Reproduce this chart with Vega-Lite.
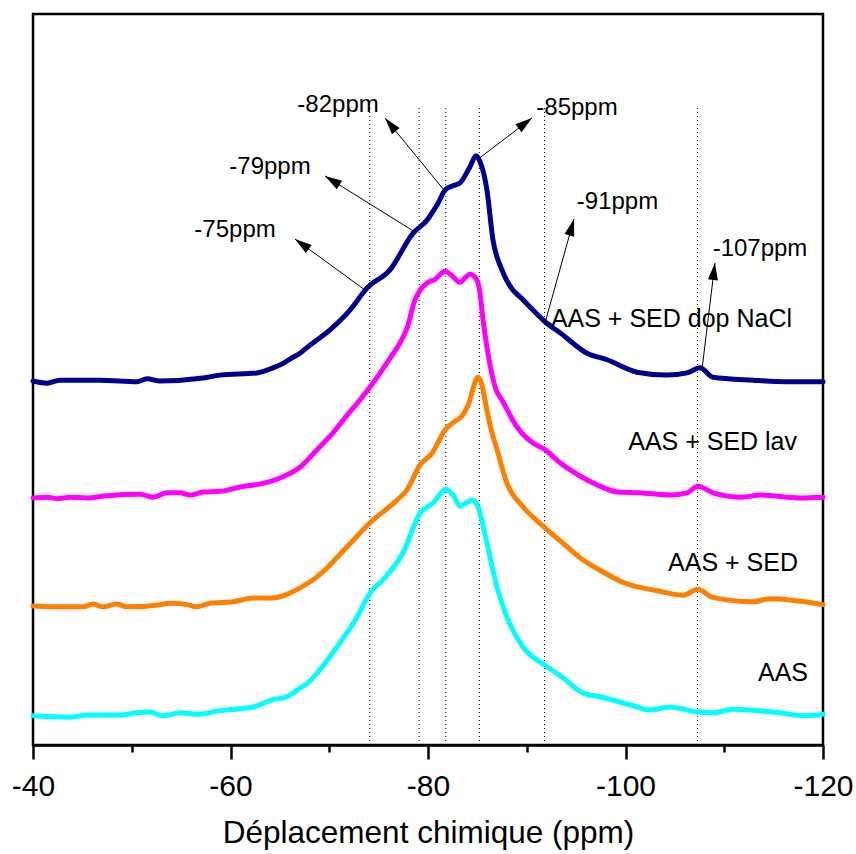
{
  "$schema": "https://vega.github.io/schema/vega-lite/v6.json",
  "width": 790,
  "height": 731,
  "autosize": "none",
  "padding": {"left": 33, "top": 14, "right": 33, "bottom": 109},
  "background": "white",
  "config": {"view": {"stroke": "black", "strokeWidth": 2.5}, "font": "Liberation Sans"},
  "datasets": {
    "curves": [
      {"s":"AAS + SED dop NaCl","x":-40,"y":49.8},{"s":"AAS + SED dop NaCl","x":-41.42,"y":49.5},{"s":"AAS + SED dop NaCl","x":-42.73,"y":49.9},{"s":"AAS + SED dop NaCl","x":-46.78,"y":49.9},{"s":"AAS + SED dop NaCl","x":-50.53,"y":49.7},{"s":"AAS + SED dop NaCl","x":-51.54,"y":50.1},{"s":"AAS + SED dop NaCl","x":-52.86,"y":49.8},{"s":"AAS + SED dop NaCl","x":-57.22,"y":50.2},{"s":"AAS + SED dop NaCl","x":-58.94,"y":50.6},{"s":"AAS + SED dop NaCl","x":-62.68,"y":50.9},{"s":"AAS + SED dop NaCl","x":-64.3,"y":51.6},{"s":"AAS + SED dop NaCl","x":-65.32,"y":52.2},{"s":"AAS + SED dop NaCl","x":-66.03,"y":52.8},{"s":"AAS + SED dop NaCl","x":-67.04,"y":53.6},{"s":"AAS + SED dop NaCl","x":-68.05,"y":54.7},{"s":"AAS + SED dop NaCl","x":-70.08,"y":56.8},{"s":"AAS + SED dop NaCl","x":-72.1,"y":59.5},{"s":"AAS + SED dop NaCl","x":-73.82,"y":62.5},{"s":"AAS + SED dop NaCl","x":-76.15,"y":65.0},{"s":"AAS + SED dop NaCl","x":-78.48,"y":70.0},{"s":"AAS + SED dop NaCl","x":-79.9,"y":71.8},{"s":"AAS + SED dop NaCl","x":-81.01,"y":74.1},{"s":"AAS + SED dop NaCl","x":-81.72,"y":75.9},{"s":"AAS + SED dop NaCl","x":-82.53,"y":76.5},{"s":"AAS + SED dop NaCl","x":-83.24,"y":76.9},{"s":"AAS + SED dop NaCl","x":-84.25,"y":79.1},{"s":"AAS + SED dop NaCl","x":-84.86,"y":80.6},{"s":"AAS + SED dop NaCl","x":-85.27,"y":79.8},{"s":"AAS + SED dop NaCl","x":-85.97,"y":75.9},{"s":"AAS + SED dop NaCl","x":-86.58,"y":69.1},{"s":"AAS + SED dop NaCl","x":-87.49,"y":65.0},{"s":"AAS + SED dop NaCl","x":-88.61,"y":62.2},{"s":"AAS + SED dop NaCl","x":-89.32,"y":61.3},{"s":"AAS + SED dop NaCl","x":-90.63,"y":59.5},{"s":"AAS + SED dop NaCl","x":-91.85,"y":57.9},{"s":"AAS + SED dop NaCl","x":-93.37,"y":56.4},{"s":"AAS + SED dop NaCl","x":-96.1,"y":53.6},{"s":"AAS + SED dop NaCl","x":-98.13,"y":52.7},{"s":"AAS + SED dop NaCl","x":-101.16,"y":51.0},{"s":"AAS + SED dop NaCl","x":-104.2,"y":50.6},{"s":"AAS + SED dop NaCl","x":-106.23,"y":50.9},{"s":"AAS + SED dop NaCl","x":-107.54,"y":51.6},{"s":"AAS + SED dop NaCl","x":-108.86,"y":50.3},{"s":"AAS + SED dop NaCl","x":-112.91,"y":49.9},{"s":"AAS + SED dop NaCl","x":-116.35,"y":49.7},{"s":"AAS + SED dop NaCl","x":-120,"y":49.7},

      {"s":"AAS + SED lav","x":-40,"y":33.8},{"s":"AAS + SED lav","x":-41.42,"y":33.9},{"s":"AAS + SED lav","x":-42.43,"y":33.7},{"s":"AAS + SED lav","x":-43.75,"y":33.9},{"s":"AAS + SED lav","x":-45.47,"y":33.8},{"s":"AAS + SED lav","x":-47.49,"y":34.1},{"s":"AAS + SED lav","x":-50.84,"y":34.3},{"s":"AAS + SED lav","x":-52.15,"y":33.9},{"s":"AAS + SED lav","x":-53.57,"y":34.5},{"s":"AAS + SED lav","x":-54.89,"y":34.5},{"s":"AAS + SED lav","x":-55.9,"y":34.2},{"s":"AAS + SED lav","x":-57.22,"y":34.6},{"s":"AAS + SED lav","x":-58.94,"y":34.7},{"s":"AAS + SED lav","x":-60.96,"y":35.3},{"s":"AAS + SED lav","x":-63.29,"y":35.8},{"s":"AAS + SED lav","x":-65.32,"y":36.7},{"s":"AAS + SED lav","x":-67.04,"y":38.0},{"s":"AAS + SED lav","x":-68.76,"y":40.4},{"s":"AAS + SED lav","x":-70.38,"y":42.7},{"s":"AAS + SED lav","x":-71.8,"y":45.1},{"s":"AAS + SED lav","x":-73.11,"y":47.2},{"s":"AAS + SED lav","x":-74.63,"y":49.9},{"s":"AAS + SED lav","x":-76.15,"y":52.9},{"s":"AAS + SED lav","x":-77.16,"y":55.0},{"s":"AAS + SED lav","x":-77.87,"y":57.0},{"s":"AAS + SED lav","x":-78.68,"y":60.9},{"s":"AAS + SED lav","x":-79.19,"y":62.2},{"s":"AAS + SED lav","x":-79.9,"y":63.2},{"s":"AAS + SED lav","x":-80.71,"y":63.7},{"s":"AAS + SED lav","x":-81.72,"y":64.8},{"s":"AAS + SED lav","x":-82.43,"y":64.2},{"s":"AAS + SED lav","x":-83.24,"y":63.3},{"s":"AAS + SED lav","x":-83.75,"y":63.9},{"s":"AAS + SED lav","x":-84.25,"y":64.4},{"s":"AAS + SED lav","x":-84.76,"y":64.0},{"s":"AAS + SED lav","x":-85.16,"y":62.7},{"s":"AAS + SED lav","x":-85.67,"y":57.2},{"s":"AAS + SED lav","x":-86.28,"y":52.0},{"s":"AAS + SED lav","x":-86.89,"y":48.6},{"s":"AAS + SED lav","x":-87.49,"y":47.2},{"s":"AAS + SED lav","x":-89.01,"y":43.5},{"s":"AAS + SED lav","x":-90.63,"y":41.3},{"s":"AAS + SED lav","x":-91.85,"y":40.4},{"s":"AAS + SED lav","x":-93.37,"y":38.6},{"s":"AAS + SED lav","x":-95.39,"y":36.8},{"s":"AAS + SED lav","x":-97.11,"y":35.6},{"s":"AAS + SED lav","x":-99.24,"y":34.6},{"s":"AAS + SED lav","x":-101.47,"y":34.5},{"s":"AAS + SED lav","x":-104.51,"y":34.2},{"s":"AAS + SED lav","x":-106.23,"y":34.5},{"s":"AAS + SED lav","x":-107.34,"y":35.4},{"s":"AAS + SED lav","x":-108.86,"y":34.5},{"s":"AAS + SED lav","x":-111.8,"y":33.9},{"s":"AAS + SED lav","x":-113.62,"y":34.2},{"s":"AAS + SED lav","x":-117.67,"y":33.8},{"s":"AAS + SED lav","x":-120,"y":33.9},

      {"s":"AAS + SED","x":-40,"y":19.0},{"s":"AAS + SED","x":-42.03,"y":18.9},{"s":"AAS + SED","x":-45.06,"y":18.9},{"s":"AAS + SED","x":-46.08,"y":19.3},{"s":"AAS + SED","x":-47.09,"y":18.9},{"s":"AAS + SED","x":-48.51,"y":19.3},{"s":"AAS + SED","x":-49.52,"y":18.9},{"s":"AAS + SED","x":-52.86,"y":19.2},{"s":"AAS + SED","x":-53.87,"y":19.4},{"s":"AAS + SED","x":-55.59,"y":19.2},{"s":"AAS + SED","x":-56.61,"y":18.9},{"s":"AAS + SED","x":-57.92,"y":19.4},{"s":"AAS + SED","x":-60.25,"y":19.6},{"s":"AAS + SED","x":-62.28,"y":20.1},{"s":"AAS + SED","x":-64.3,"y":20.1},{"s":"AAS + SED","x":-66.03,"y":20.8},{"s":"AAS + SED","x":-67.04,"y":21.5},{"s":"AAS + SED","x":-68.76,"y":23.0},{"s":"AAS + SED","x":-71.8,"y":27.1},{"s":"AAS + SED","x":-74.13,"y":30.4},{"s":"AAS + SED","x":-76.86,"y":33.5},{"s":"AAS + SED","x":-77.87,"y":34.9},{"s":"AAS + SED","x":-79.19,"y":38.3},{"s":"AAS + SED","x":-80.41,"y":39.9},{"s":"AAS + SED","x":-81.72,"y":43.1},{"s":"AAS + SED","x":-82.73,"y":44.3},{"s":"AAS + SED","x":-83.44,"y":45.0},{"s":"AAS + SED","x":-84.25,"y":47.2},{"s":"AAS + SED","x":-84.66,"y":49.2},{"s":"AAS + SED","x":-85.06,"y":50.3},{"s":"AAS + SED","x":-85.47,"y":49.2},{"s":"AAS + SED","x":-85.77,"y":47.2},{"s":"AAS + SED","x":-86.28,"y":43.8},{"s":"AAS + SED","x":-86.99,"y":40.4},{"s":"AAS + SED","x":-88.0,"y":35.8},{"s":"AAS + SED","x":-89.62,"y":32.6},{"s":"AAS + SED","x":-91.85,"y":29.7},{"s":"AAS + SED","x":-93.67,"y":27.6},{"s":"AAS + SED","x":-95.7,"y":25.3},{"s":"AAS + SED","x":-97.42,"y":23.9},{"s":"AAS + SED","x":-99.65,"y":22.3},{"s":"AAS + SED","x":-103.19,"y":21.1},{"s":"AAS + SED","x":-105.82,"y":20.5},{"s":"AAS + SED","x":-107.34,"y":21.3},{"s":"AAS + SED","x":-108.86,"y":20.2},{"s":"AAS + SED","x":-112.91,"y":19.6},{"s":"AAS + SED","x":-114.63,"y":20.0},{"s":"AAS + SED","x":-120,"y":19.2},

      {"s":"AAS","x":-40,"y":4.0},{"s":"AAS","x":-43.75,"y":3.8},{"s":"AAS","x":-45.47,"y":4.1},{"s":"AAS","x":-48.81,"y":4.1},{"s":"AAS","x":-50.53,"y":4.4},{"s":"AAS","x":-51.85,"y":4.5},{"s":"AAS","x":-53.16,"y":4.0},{"s":"AAS","x":-54.89,"y":4.4},{"s":"AAS","x":-56.61,"y":4.2},{"s":"AAS","x":-58.94,"y":4.7},{"s":"AAS","x":-62.28,"y":5.2},{"s":"AAS","x":-64.3,"y":6.2},{"s":"AAS","x":-65.72,"y":6.6},{"s":"AAS","x":-67.04,"y":7.8},{"s":"AAS","x":-67.75,"y":8.4},{"s":"AAS","x":-68.76,"y":9.8},{"s":"AAS","x":-70.78,"y":13.4},{"s":"AAS","x":-72.81,"y":17.5},{"s":"AAS","x":-74.13,"y":20.8},{"s":"AAS","x":-75.44,"y":22.6},{"s":"AAS","x":-77.47,"y":26.3},{"s":"AAS","x":-79.19,"y":31.7},{"s":"AAS","x":-80.51,"y":33.1},{"s":"AAS","x":-81.82,"y":35.0},{"s":"AAS","x":-82.53,"y":34.2},{"s":"AAS","x":-83.24,"y":32.7},{"s":"AAS","x":-83.85,"y":33.1},{"s":"AAS","x":-84.46,"y":33.5},{"s":"AAS","x":-85.06,"y":32.6},{"s":"AAS","x":-85.97,"y":27.6},{"s":"AAS","x":-86.99,"y":21.6},{"s":"AAS","x":-88.0,"y":17.5},{"s":"AAS","x":-89.62,"y":13.4},{"s":"AAS","x":-91.85,"y":10.9},{"s":"AAS","x":-93.67,"y":9.2},{"s":"AAS","x":-95.7,"y":7.1},{"s":"AAS","x":-97.42,"y":6.6},{"s":"AAS","x":-100.46,"y":5.5},{"s":"AAS","x":-102.48,"y":4.8},{"s":"AAS","x":-104.51,"y":5.2},{"s":"AAS","x":-107.34,"y":4.5},{"s":"AAS","x":-108.86,"y":4.4},{"s":"AAS","x":-110.89,"y":4.9},{"s":"AAS","x":-114.94,"y":4.5},{"s":"AAS","x":-118.38,"y":4.0},{"s":"AAS","x":-120,"y":4.2}
    ],
    "vlines": [
      {"x":-74.1,"y":0,"y2":87.5},{"x":-79.1,"y":0,"y2":87.5},{"x":-81.8,"y":0,"y2":87.5},{"x":-85.2,"y":0,"y2":87.5},{"x":-91.8,"y":0,"y2":87.5},{"x":-107.3,"y":0,"y2":87.5}
    ],
    "arrows": [
      {"x":-66.53,"y":69.22,"x0":-73.62,"y0":62.24},
      {"x":-69.57,"y":77.84,"x0":-78.68,"y0":70.18},
      {"x":-75.65,"y":85.77,"x0":-81.62,"y0":75.92},
      {"x":-90.53,"y":85.77,"x0":-84.96,"y0":80.03},
      {"x":-94.78,"y":71.96,"x0":-91.85,"y0":57.73},
      {"x":-109.06,"y":65.94,"x0":-107.75,"y0":51.44}
    ],
    "ppmlabels": [
      {"t":"-75ppm","x":-60.46,"y":69.49},
      {"t":"-79ppm","x":-64.0,"y":78.11},
      {"t":"-82ppm","x":-70.89,"y":86.59},
      {"t":"-85ppm","x":-95.09,"y":86.18},
      {"t":"-91ppm","x":-99.19,"y":73.32},
      {"t":"-107ppm","x":-113.62,"y":66.89}
    ],
    "serieslabels": [
      {"t":"AAS + SED dop NaCl","x":-116.86,"y":57.18},
      {"t":"AAS + SED lav","x":-117.37,"y":40.36},
      {"t":"AAS + SED","x":-117.47,"y":23.8},
      {"t":"AAS","x":-118.48,"y":8.76}
    ]
  },
  "encoding": {
    "x": {
      "field": "x", "type": "quantitative",
      "scale": {"domain": [-120, -40], "reverse": true, "nice": false, "zero": false},
      "axis": {
        "title": "Déplacement chimique (ppm)",
        "values": [-40, -50, -60, -70, -80, -90, -100, -110, -120],
        "labelExpr": "datum.value % 20 === 0 ? '' + datum.value : ''",
        "tickSize": {"condition": {"test": "datum.value % 20 === 0", "value": 14}, "value": 7},
        "tickWidth": 2.5, "tickColor": "black",
        "domainColor": "black", "domainWidth": 2.5,
        "labelFont": "Liberation Sans", "labelFontSize": 30, "labelColor": "black", "labelPadding": 12,
        "labelFlush": false, "labelOverlap": false,
        "titleFont": "Liberation Sans", "titleFontSize": 31.5, "titleFontWeight": "normal", "titleColor": "black",
        "titleY": 97, "titleBaseline": "alphabetic",
        "grid": false
      }
    },
    "y": {"field": "y", "type": "quantitative", "scale": {"domain": [0, 100], "nice": false, "zero": false}, "axis": null}
  },
  "layer": [
    {
      "data": {"name": "vlines"},
      "mark": {"type": "rule", "color": "black", "strokeWidth": 1, "strokeDash": [1, 3]},
      "encoding": {"y2": {"field": "y2"}}
    },
    {
      "data": {"name": "curves"},
      "mark": {"type": "line", "interpolate": "monotone", "strokeCap": "round", "strokeJoin": "round"},
      "encoding": {
        "color": {"field": "s", "type": "nominal", "legend": null,
          "scale": {"domain": ["AAS + SED dop NaCl", "AAS + SED lav", "AAS + SED", "AAS"], "range": ["#000090", "#ff00ff", "#ff8000", "#00ffff"]}},
        "strokeWidth": {"field": "s", "type": "nominal", "legend": null,
          "scale": {"domain": ["AAS + SED dop NaCl", "AAS + SED lav", "AAS + SED", "AAS"], "range": [5, 5, 5, 4]}}
      }
    },
    {
      "data": {"name": "arrows"},
      "mark": {"type": "rule", "color": "black", "strokeWidth": 1},
      "encoding": {"x2": {"field": "x0"}, "y2": {"field": "y0"}}
    },
    {
      "data": {"name": "arrows"},
      "transform": [
        {"calculate": "atan2(-(datum.x - datum.x0) * 9.875, (datum.y - datum.y0) * 7.31) * 180 / PI", "as": "ang"}
      ],
      "mark": {"type": "point", "shape": "M0,0L-1,3.4L1,3.4Z", "filled": true, "color": "black", "size": 100, "opacity": 1},
      "encoding": {"angle": {"field": "ang", "type": "quantitative", "scale": null}}
    },
    {
      "data": {"name": "ppmlabels"},
      "mark": {"type": "text", "font": "Liberation Sans", "fontSize": 24, "align": "center", "baseline": "alphabetic", "color": "black"},
      "encoding": {"text": {"field": "t"}}
    },
    {
      "data": {"name": "serieslabels"},
      "mark": {"type": "text", "font": "Liberation Sans", "fontSize": 25, "align": "right", "baseline": "alphabetic", "color": "black"},
      "encoding": {"text": {"field": "t"}}
    }
  ]
}
